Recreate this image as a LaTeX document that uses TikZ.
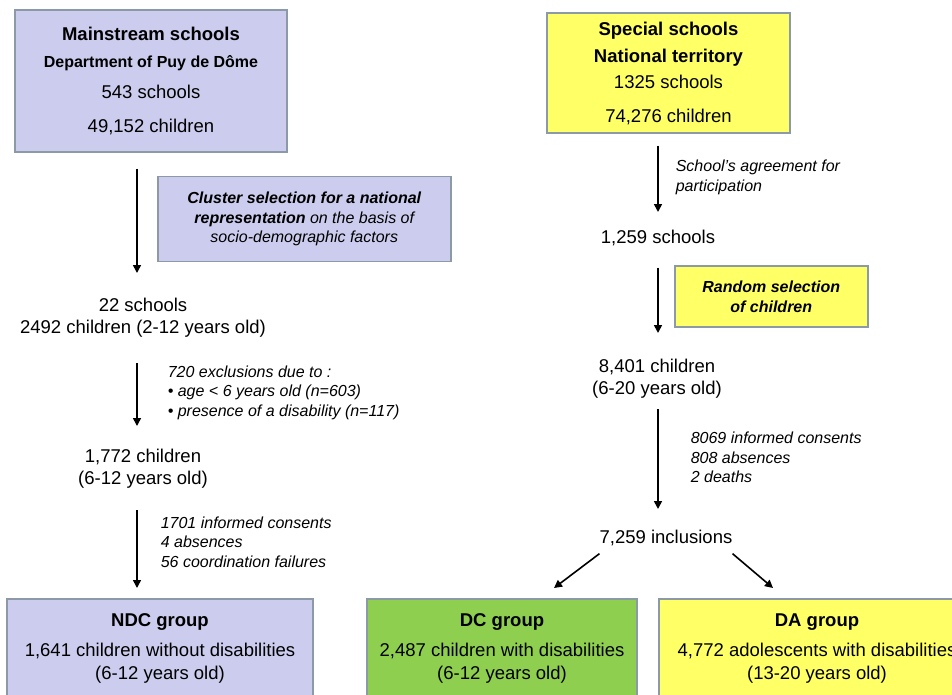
\documentclass[tikz,border=0pt]{standalone}
\usepackage{fontspec}
\setmainfont{Liberation Sans}
\usetikzlibrary{arrows.meta}
\definecolor{lavbox}{HTML}{CCCCEE}
\definecolor{yelbox}{HTML}{FFFF66}
\definecolor{grnbox}{HTML}{8FCF50}
\definecolor{boxline}{HTML}{8C9AA8}
\newcommand{\mainsz}{\fontsize{18.5}{22}\selectfont}
\newcommand{\notesz}{\fontsize{16}{19.5}\selectfont}
\newcommand{\subsz}{\fontsize{16}{19}\selectfont}

\begin{document}
\begin{tikzpicture}[x=1pt,y=-1pt,
  box/.style={draw=boxline,line width=1.5pt,inner sep=0pt,align=center,font=\mainsz},
  txt/.style={inner sep=0pt,align=center,font=\mainsz,anchor=north},
  note/.style={inner sep=0pt,align=left,font=\notesz\itshape,anchor=west},
  arr/.style={line width=1.6pt,-{Triangle[length=8pt,width=8pt]}}]

\useasboundingbox (0,0) rectangle (952,695);
\coordinate (lc) at (137,0);
\coordinate (rc) at (658,0);

\node (ms) [box,fill=lavbox,minimum width=272pt,minimum height=142pt] at (151,81)
  {\textbf{Mainstream schools}\\[5pt] {\subsz\textbf{Department of Puy de Dôme}}\\[9pt] 543 schools\\[12pt] 49,152 children};
\node (ss) [box,fill=yelbox,minimum width=243pt,minimum height=120pt] at (668.5,73)
  {\textbf{Special schools}\\[5pt] \textbf{National territory}\\[4pt] 1325 schools\\[12pt] 74,276 children};

\node (s22) [txt] at (143,297.5) {22 schools\\ 2492 children (2-12 years old)};
\node (c1772) [txt] at (143,448.5) {1,772 children\\ (6-12 years old)};
\node (s1259) [txt] at (658,229.5) {1,259 schools};
\node (c8401) [txt] at (657,358.5) {8,401 children\\ (6-20 years old)};
\node (inc) [txt] at (666,529.5) {7,259 inclusions};

\node (ndc) [box,fill=lavbox,anchor=north,minimum width=306pt,minimum height=100pt] at (160,598)
  {\textbf{NDC group}\\[8pt] 1,641 children without disabilities\\[1pt] (6-12 years old)};
\node (dc) [box,fill=grnbox,anchor=north,minimum width=270pt,minimum height=100pt] at (502,598)
  {\textbf{DC group}\\[8pt] 2,487 children with disabilities\\[1pt] (6-12 years old)};
\node (da) [box,fill=yelbox,anchor=north,minimum width=316pt,minimum height=100pt] at (817,598)
  {\textbf{DA group}\\[8pt] 4,772 adolescents with disabilities\\[1pt] (13-20 years old)};

\path

(ms.south -| lc)
edge [arr,shorten <=16pt,shorten >=24.5pt]
node (cl) [box,fill=lavbox,font=\notesz\itshape,minimum width=293pt,minimum height=85pt,right=20pt,yshift=6pt]
  {\textbf{Cluster selection for a national}\\ \textbf{representation} on the basis of\\ socio-demographic factors}
(s22.north -| lc)

(s22.south -| lc)
edge [arr,shorten <=26pt,shorten >=22.5pt]
node (ex) [note,right=30pt] {720 exclusions due to :\\ • age < 6 years old (n=603)\\ • presence of a disability (n=117)}
(c1772.north -| lc)

(c1772.south -| lc)
edge [arr,shorten <=22pt,shorten >=10pt]
node (cn1) [note,right=23pt,yshift=1pt] {1701 informed consents\\ 4 absences\\ 56 coordination failures}
(ndc.north -| lc)

(ss.south -| rc)
edge [arr,shorten <=12pt,shorten >=17.5pt]
node (ag) [note,right=17pt,yshift=4.5pt] {School’s agreement for\\ participation}
(s1259.north -| rc)

(s1259.south -| rc)
edge [arr,shorten <=22pt,shorten >=25.5pt]
node (rs) [box,fill=yelbox,font=\notesz\itshape,minimum width=193pt,minimum height=61pt,right=16pt,yshift=5.5pt]
  {\textbf{Random selection}\\ \textbf{of children}}
(c8401.north -| rc)

(c8401.south -| rc)
edge [arr,shorten <=11pt,shorten >=20.5pt]
node (cn2) [note,right=32pt,yshift=6.5pt] {8069 informed consents\\ 808 absences\\ 2 deaths}
(inc.north -| rc)

([yshift=-8pt]inc.south west)
edge [arr]
([xshift=52pt,yshift=10pt]dc.north)

([yshift=-8pt]inc.south east)
edge [arr]
([xshift=-44pt,yshift=10pt]da.north)

;

\end{tikzpicture}
\end{document}
